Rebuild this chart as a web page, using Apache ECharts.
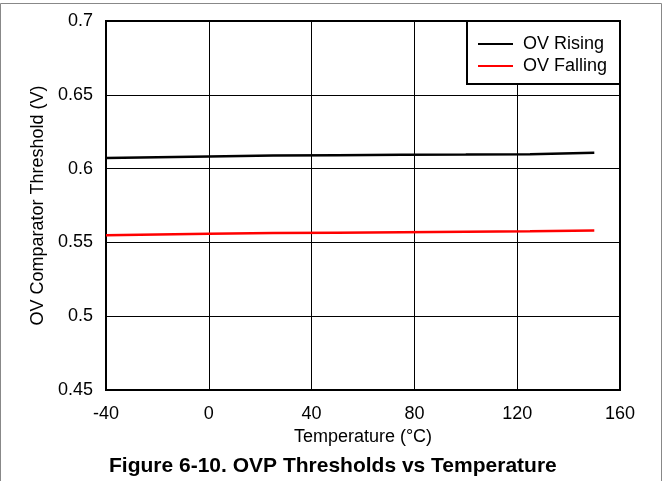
<!DOCTYPE html>
<html>
<head>
<meta charset="utf-8">
<script src="https://cdn.jsdelivr.net/npm/echarts@6/dist/echarts.min.js"></script>
<style>html,body{margin:0;padding:0;background:#fff}#c{width:663px;height:481px}</style>
</head>
<body>
<div id="c"></div>
<script>
const temps = [-40, -20, 0, 25, 50, 75, 100, 125, 150];
const ovRising = [0.6072, 0.6077, 0.6082, 0.6088, 0.6091, 0.6093, 0.6095, 0.6098, 0.6108];
const ovFalling = [0.5548, 0.5553, 0.5558, 0.5563, 0.5566, 0.5569, 0.5572, 0.5575, 0.5580];
const seriesNames = ['OV Rising', 'OV Falling'];
const xName = 'Temperature (°C)';
const yName = 'OV Comparator Threshold (V)';
const title = 'Figure 6-10. OVP Thresholds vs Temperature';

const font = 'Arial, "Liberation Sans", sans-serif';
const chart = echarts.init(document.getElementById('c'), null, {renderer: 'canvas'});
chart.setOption({
  animation: false,
  backgroundColor: '#fff',
  title: {
    text: title, left: 104, top: 451,
    textStyle: {fontFamily: font, fontSize: 21, fontWeight: 'bold', color: '#000'}
  },
  grid: {left: 106, right: 43, top: 21, bottom: 91, show: true, borderColor: '#000', borderWidth: 2, backgroundColor: 'transparent'},
  legend: {
    orient: 'vertical', left: 473, top: 30, z: 20,
    itemWidth: 35, itemHeight: 2, itemGap: 4,
    icon: 'rect',
    data: seriesNames,
    textStyle: {fontFamily: font, fontSize: 18, lineHeight: 18, color: '#000', padding: [0,0,0,5]}
  },
  xAxis: {
    type: 'value', min: -40, max: 160, interval: 40,
    name: xName, nameLocation: 'middle', nameGap: 36,
    nameTextStyle: {fontFamily: font, fontSize: 18, color: '#000'},
    axisLine: {show: false}, axisTick: {show: false},
    axisLabel: {fontFamily: font, fontSize: 18, color: '#000', margin: 15},
    splitLine: {show: true, lineStyle: {color: '#000', width: 1}}
  },
  yAxis: {
    type: 'value', min: 0.45, max: 0.7, interval: 0.05,
    name: yName, nameLocation: 'middle', nameGap: 57, nameRotate: 90,
    nameTextStyle: {fontFamily: font, fontSize: 18, color: '#000'},
    axisLine: {show: false}, axisTick: {show: false},
    axisLabel: {fontFamily: font, fontSize: 18, color: '#000', margin: 13, formatter: v => String(+v.toFixed(2))},
    splitLine: {show: true, lineStyle: {color: '#000', width: 1}}
  },
  graphic: [
    {type: 'rect', z: 10, shape: {x: 467, y: 21, width: 153, height: 63}, style: {fill: '#fff', stroke: '#000', lineWidth: 2}},
    {type: 'rect', z: 0, silent: true, shape: {x: 0.5, y: 3.5, width: 661, height: 480}, style: {fill: 'none', stroke: '#888', lineWidth: 1}}
  ],
  series: [
    {name: seriesNames[0], type: 'line', data: temps.map((t, i) => [t, ovRising[i]]), showSymbol: false, lineStyle: {color: '#000', width: 2.5}, itemStyle: {color: '#000'}},
    {name: seriesNames[1], type: 'line', data: temps.map((t, i) => [t, ovFalling[i]]), showSymbol: false, lineStyle: {color: '#ff0000', width: 2.5}, itemStyle: {color: '#ff0000'}}
  ]
});
</script>
</body>
</html>
